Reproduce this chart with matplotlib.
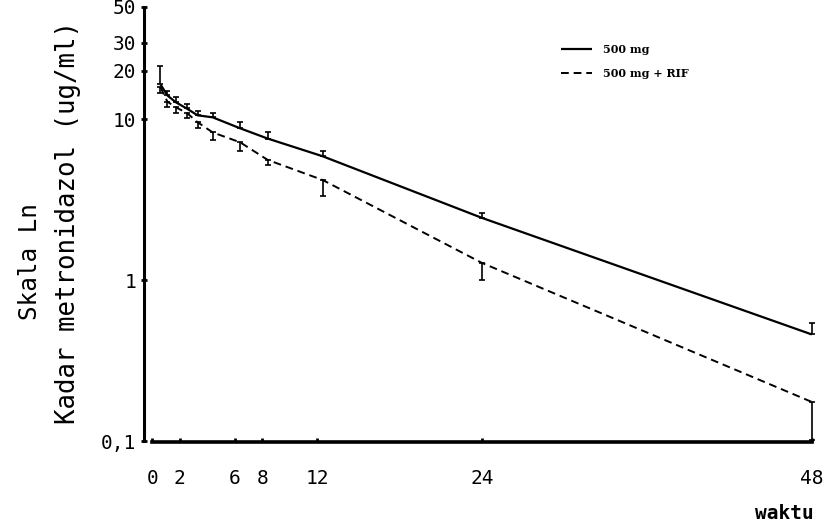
import numpy as np
import matplotlib
matplotlib.use('Agg')
import matplotlib.pyplot as plt

# waktu (jam) dan kadar metronidazol (ug/ml)
waktu = [0.6, 1.1, 1.7, 2.5, 3.3, 4.4, 6.4, 8.4, 12.4, 24, 48]
kadar_500 = [16.5, 14.1, 12.8, 11.7, 10.6, 10.3, 8.8, 7.6, 5.9, 2.44, 0.46]
err_500 = [5.0, 1.0, 0.9, 0.8, 0.6, 0.7, 0.8, 0.8, 0.5, 0.18, 0.08]
kadar_rif = [15.8, 12.9, 11.9, 11.0, 9.6, 8.3, 7.2, 5.6, 4.2, 1.28, 0.175]
err_rif = [1.3, 1.0, 0.9, 0.8, 0.7, 0.9, 0.8, 0.4, 0.85, 0.27, 0.073]

xticks = [0, 2, 6, 8, 12, 24, 48]
yticks = [0.1, 1, 10, 20, 30, 50]
ylabels = ['0,1', '1', '10', '20', '30', '50']

mono = 'DejaVu Sans Mono'

fig = plt.figure(figsize=(8.34, 5.27), dpi=100)
ax = fig.add_axes([144 / 834, 1 - 441 / 527, 676 / 834, 434 / 527])

ax.plot(waktu, kadar_500, color='black', lw=1.6, solid_capstyle='butt')
ax.errorbar(waktu, kadar_500, yerr=[np.zeros(len(err_500)), err_500],
            fmt='none', ecolor='black', elinewidth=1.2, capsize=2.5, capthick=1.2)
ax.plot(waktu, kadar_rif, color='black', lw=1.4, linestyle=(0, (4, 2.5)))
ax.errorbar(waktu, kadar_rif, yerr=[err_rif, np.zeros(len(err_rif))],
            fmt='none', ecolor='black', elinewidth=1.2, capsize=2.5, capthick=1.2)

ax.set_yscale('log')
ax.set_ylim(0.1, 50)
ax.set_xlim(-0.6, 48.6)

ax.set_xticks(xticks)
ax.set_xticklabels([str(t) for t in xticks])
ax.set_yticks(yticks)
ax.set_yticklabels(ylabels)
ax.minorticks_off()
ax.tick_params(axis='x', direction='in', length=3, width=2, pad=19,
               labelsize=14, labelfontfamily=mono)
ax.tick_params(axis='y', direction='inout', length=5, width=2, pad=3,
               labelsize=14, labelfontfamily=mono)

for s in ['top', 'right']:
    ax.spines[s].set_visible(False)
ax.spines['left'].set_linewidth(2.2)
ax.spines['bottom'].set_linewidth(2.6)
ax.spines['bottom'].set_bounds(0, 48)
ax.spines['bottom'].set_position(('outward', 1))

ax.set_xlabel('waktu', fontfamily=mono, fontsize=14, fontweight='bold')
ax.xaxis.set_label_coords(0.948, -0.145)

fig.text(30 / 834, 1 - 262 / 527, 'Skala Ln', rotation=90, ha='center', va='center',
         fontfamily=mono, fontsize=17.5)
fig.text(68 / 834, 1 - 222 / 527, 'Kadar metronidazol (ug/ml)', rotation=90,
         ha='center', va='center', fontfamily=mono, fontsize=18.5)

leg = ax.legend(['500 mg', '500 mg + RIF'], loc='upper left',
                bbox_to_anchor=(561 / 834, 1 - 44 / 527), bbox_transform=fig.transFigure,
                frameon=False, borderpad=0, borderaxespad=0, handlelength=2.8,
                handletextpad=1.0, labelspacing=1.2,
                prop={'family': 'DejaVu Serif', 'weight': 'bold', 'size': 8})

fig.savefig('out.png', dpi=100)
